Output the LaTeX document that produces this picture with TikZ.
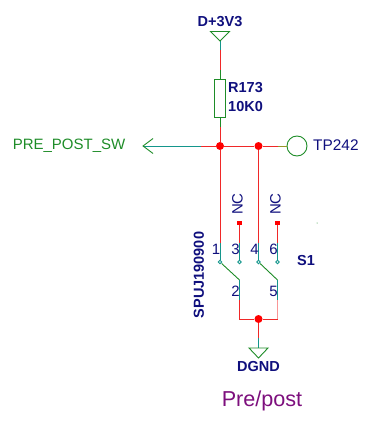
\documentclass[tikz,border=0pt]{standalone}
\usepackage{fontspec}
\setmainfont{Liberation Sans}
\usetikzlibrary{calc}
\definecolor{netred}{RGB}{240,40,40}
\definecolor{netpink}{RGB}{250,150,150}
\definecolor{netteal}{RGB}{20,150,140}
\definecolor{netgreen}{RGB}{30,140,40}
\definecolor{netolive}{RGB}{150,150,40}
\definecolor{labelblue}{RGB}{15,15,125}
\definecolor{labelpurple}{RGB}{125,15,125}
\tikzset{
  wire/.style={netred,line width=0.9pt},
  pinwire/.style={netteal,line width=0.9pt},
  symbol/.style={netgreen,line width=0.9pt},
  junction/.style={circle,fill=red,inner sep=0pt,minimum size=8pt},
  hole/.style={circle,draw=netteal,line width=0.8pt,fill=white,inner sep=0pt,minimum size=3.5pt},
  ncmark/.style={rectangle,fill=red,inner sep=0pt,minimum size=4.5pt},
  powertri/.style={symbol,line join=miter},
  reflabel/.style={font=\fontsize{14.5}{17}\selectfont\bfseries,text=labelblue,inner sep=0pt},
  pinlabel/.style={font=\fontsize{15}{18}\selectfont,text=labelblue,inner sep=0pt}
}

\begin{document}
\begin{tikzpicture}[x=1pt,y=-1pt]
  \useasboundingbox (0,0) rectangle (382,428);
  % Junctions and pin ends
  \node[junction] (jleft) at (220,146) {};
  \node[junction] (jright) at (258.5,146) {};
  \node[junction] (jbottom) at (258.5,319) {};
  \node[hole] (pinone) at (220,262) {};
  \node[hole] (pinthree) at (239.5,262) {};
  \node[hole] (pinfour) at (258.5,262) {};
  \node[hole] (pinsix) at (277.5,262) {};
  \node[ncmark] (ncthree) at (239.5,223) {};
  \node[ncmark] (ncsix) at (277.5,223) {};
  \coordinate (pintwo) at (239.5,280);
  \coordinate (pinfive) at (277.5,280);
  \coordinate (cornertwo) at (239.5,319);
  \coordinate (cornerfive) at (277.5,319);
  \coordinate (vcctip) at (220,41);
  \coordinate (gndtop) at (258.5,348);
  \coordinate (swtip) at (143,146);
  % Resistor and test point
  \node[draw=netgreen,line width=0.9pt,minimum width=11.5pt,minimum height=37.5pt,inner sep=0pt] (rpull) at (220,98.25) {};
  \node[circle,draw=netgreen,line width=0.9pt,minimum size=20pt,inner sep=0pt] (tpoint) at (297,146) {};
  % Supply net
  \draw[pinwire] (vcctip) -- +(0,9) coordinate (vcca);
  \draw[wire] (vcca) -- +(0,20) coordinate (vccb);
  \draw[symbol] (vccb) -- (rpull.north);
  \draw[symbol] (rpull.south) -- +(0,10) coordinate (rlow);
  \draw[wire] (rlow) -- (jleft);
  % Horizontal net
  \draw[pinwire] (swtip) -- +(58,0) coordinate (swa);
  \draw[wire] (swa) -- (jleft);
  \draw[wire] (jleft) -- (jright);
  \draw[wire] (jright) -- +(19.5,0) coordinate (tpa);
  \draw[netolive,line width=0.9pt] (tpa) -- (tpoint.west);
  % Switch contacts, upper side
  \draw[wire] (jleft) -- +(0,97) coordinate (onea);
  \draw[pinwire] (onea) -- (pinone);
  \draw[wire] (jright) -- +(0,97) coordinate (foura);
  \draw[pinwire] (foura) -- (pinfour);
  \draw[wire] (ncthree) -- +(0,20) coordinate (threea);
  \draw[pinwire] (threea) -- (pinthree);
  \draw[wire] (ncsix) -- +(0,20) coordinate (sixa);
  \draw[pinwire] (sixa) -- (pinsix);
  % Switch levers
  \draw[symbol] (pinone) -- (pintwo);
  \draw[symbol] (pinfour) -- (pinfive);
  % Switch contacts, lower side
  \draw[pinwire] (pintwo) -- +(0,20) coordinate (twoa);
  \draw[wire] (twoa) -- (cornertwo) -- (jbottom);
  \draw[pinwire] (pinfive) -- +(0,20) coordinate (fivea);
  \draw[netpink,line width=0.9pt] (fivea) -- (cornerfive);
  \draw[wire] (cornerfive) -- (jbottom);
  \draw[wire] (jbottom) -- +(0,19) coordinate (gnda);
  \draw[pinwire] (gnda) -- (gndtop);
  % Power and ground symbols
  \draw[powertri] (vcctip) -- ++(-9.5,-9.5) -- ++(19,0) -- cycle;
  \draw[powertri] (gndtop) ++(-9.5,0) -- ++(19,0) -- ++(-9.5,10) -- cycle;
  % Net arrow
  \draw[symbol] ($(swtip)+(10,-7.5)$) -- (swtip) -- ($(swtip)+(10,7.5)$);
  % Labels
  \node[reflabel] (vcclabel) at (220,22) {D+3V3};
  \node[reflabel,anchor=west] (rname) at (228,87.5) {R173};
  \node[reflabel,anchor=west] (rvalue) at (228,106.5) {10K0};
  \node[font=\fontsize{15}{18}\selectfont,text=netgreen,anchor=east,inner sep=0pt] (swlabel) at (125.5,146) {PRE\_POST\_SW};
  \node[font=\fontsize{15.4}{18}\selectfont,text=labelblue,anchor=west,inner sep=0pt] (tplabel) at (313,145) {TP242};
  \node[reflabel,rotate=90] (partlabel) at (199,275) {SPUJ190900};
  \node[reflabel] (swname) at (306,261) {S1};
  \node[reflabel] (gndlabel) at (258.5,367) {DGND};
  \node[font=\fontsize{21.6}{26}\selectfont,text=labelpurple,inner sep=0pt] (title) at (262,400.5) {Pre/post};
  \node[pinlabel,rotate=90] (ncleft) at (237.5,204) {NC};
  \node[pinlabel,rotate=90] (ncright) at (275.5,204) {NC};
  \node[pinlabel] (numone) at (216,249.5) {1};
  \node[pinlabel] (numthree) at (235.5,249.5) {3};
  \node[pinlabel] (numfour) at (254.5,249.5) {4};
  \node[pinlabel] (numsix) at (273.5,249.5) {6};
  \node[pinlabel] (numtwo) at (235.5,291) {2};
  \node[pinlabel] (numfive) at (273.5,291) {5};
  % Stray dot right of the switch
  \fill[netgreen] (317,223) circle (0.5pt);
\end{tikzpicture}
\end{document}
